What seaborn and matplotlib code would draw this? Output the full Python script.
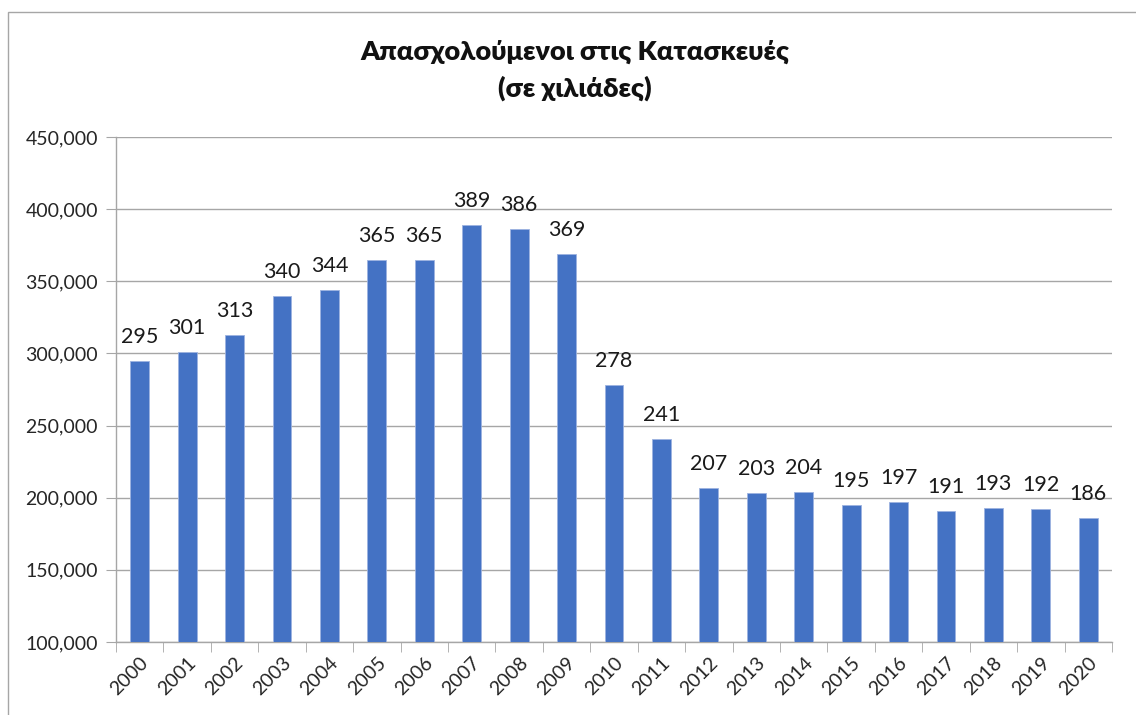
import pandas as pd
import seaborn as sns
import matplotlib.pyplot as plt
from matplotlib.patches import Rectangle

years = [str(y) for y in range(2000, 2021)]
employed_k = [295, 301, 313, 340, 344, 365, 365, 389, 386, 369, 278,
              241, 207, 203, 204, 195, 197, 191, 193, 192, 186]
title_lines = ["Απασχολούμενοι στις Κατασκευές", "(σε χιλιάδες)"]

df = pd.DataFrame({"year": years, "value": [v * 1000 for v in employed_k]})

sns.set_style("white")
plt.rcParams['font.family'] = ['Lato', 'Open Sans', 'DejaVu Sans']

fig = plt.figure(figsize=(11.36, 7.15), dpi=100)
ax = fig.add_axes([116 / 1136, 1 - 642 / 715, (1112 - 116) / 1136, (642 - 137) / 715])

sns.barplot(data=df, x="year", y="value", color="#4472C4", width=0.4,
            saturation=1, edgecolor="#9DB3E0", linewidth=0.6, ax=ax, zorder=3)

ax.bar_label(ax.containers[0], labels=[str(v) for v in employed_k],
             padding=10, fontsize=15.5, color="#1a1a1a")

ax.set_ylim(100000, 450000)
ax.set_yticks(range(100000, 450001, 50000))
ax.set_yticklabels([f"{v:,}" for v in range(100000, 450001, 50000)], fontsize=14)
ax.set_xlim(-0.5, len(years) - 0.5)
ax.set_xticks(range(len(years)))
ax.set_xticklabels(years, rotation=45, ha="right", rotation_mode="anchor", fontsize=14)
ax.set_xlabel("")
ax.set_ylabel("")

# gridlines and spines in Excel-like gray
ax.yaxis.grid(True, color="#A6A6A6", linewidth=1, zorder=0)
ax.set_axisbelow(True)
for side in ["top", "right"]:
    ax.spines[side].set_visible(False)
for side in ["left", "bottom"]:
    ax.spines[side].set_color("#A6A6A6")
    ax.spines[side].set_linewidth(1)

ax.tick_params(axis="y", length=7, color="#A6A6A6", pad=6, left=True)
ax.tick_params(axis="x", bottom=False, pad=5)
# category boundary tick marks on the x axis
ax.set_xticks([i - 0.5 for i in range(len(years) + 1)], minor=True)
ax.tick_params(axis="x", which="minor", bottom=True, length=7, color="#A6A6A6")

for i, line in enumerate(title_lines):
    fig.text(575 / 1136, 1 - (52 + 36 * i) / 715, line, ha="center", va="center",
             fontsize=19.5, fontweight="heavy", color="#111111")

# chart area frame
fig.patches.append(Rectangle((8 / 1136, -0.05), 1.1, 1 - 12 / 715 + 0.05,
                             transform=fig.transFigure, fill=False,
                             edgecolor="#A6A6A6", linewidth=1))

fig.savefig("out.png", dpi=100)
